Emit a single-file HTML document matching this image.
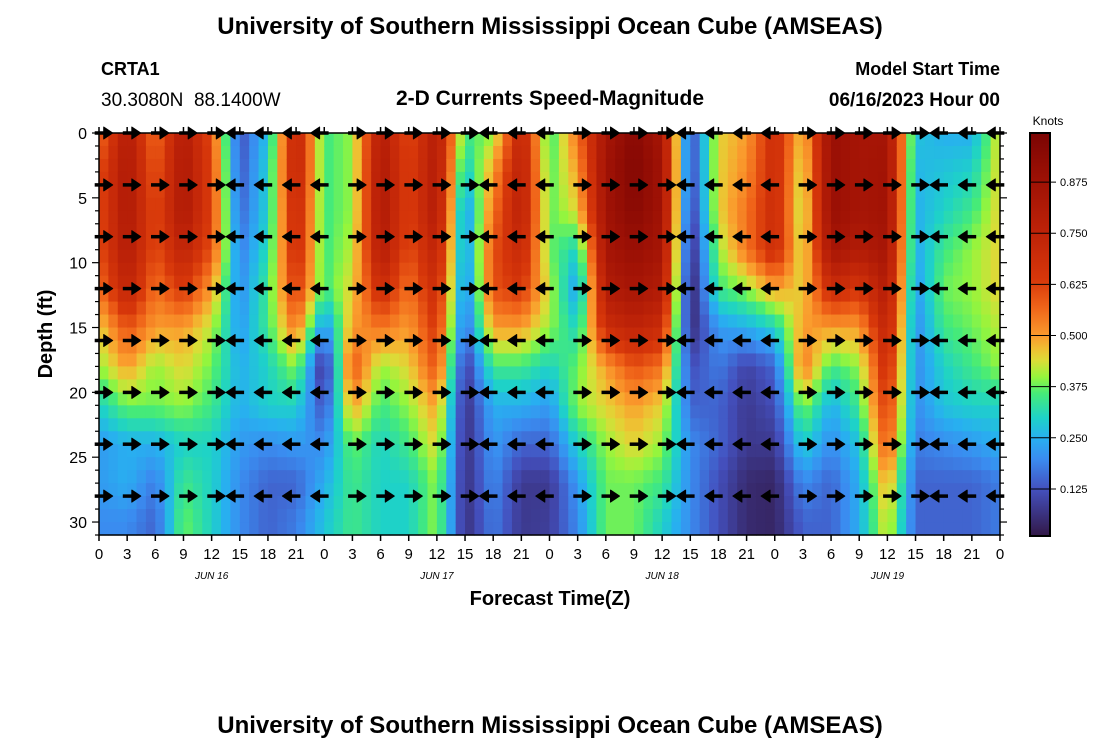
<!DOCTYPE html>
<html><head><meta charset="utf-8"><style>
body{margin:0;background:#fff;}
svg text{font-family:"Liberation Sans",sans-serif;}
</style></head><body>
<svg id="chart" width="1100" height="750" xmlns="http://www.w3.org/2000/svg">
<rect width="1100" height="750" fill="#fff"/>
<text x="550" y="34" font-size="24" font-weight="bold" text-anchor="middle">University of Southern Mississippi Ocean Cube (AMSEAS)</text>
<text x="101" y="75" font-size="18" font-weight="bold">CRTA1</text>
<text x="101" y="106" font-size="19">30.3080N&#160;&#160;88.1400W</text>
<text x="550" y="105" font-size="21" font-weight="bold" text-anchor="middle">2-D Currents Speed-Magnitude</text>
<text x="1000" y="75" font-size="18" font-weight="bold" text-anchor="end">Model Start Time</text>
<text x="1000" y="106" font-size="19" font-weight="bold" text-anchor="end">06/16/2023 Hour 00</text>
<g id="heat"></g>
<g id="arrows"></g>
<g id="axes"></g>
<text transform="translate(52,334) rotate(-90)" font-size="20" font-weight="bold" text-anchor="middle">Depth (ft)</text>
<text x="550" y="605" font-size="20" font-weight="bold" text-anchor="middle">Forecast Time(Z)</text>
<g id="cbar"></g>
<text x="1048" y="125" font-size="12" text-anchor="middle">Knots</text>
<text x="550" y="733" font-size="24" font-weight="bold" text-anchor="middle">University of Southern Mississippi Ocean Cube (AMSEAS)</text>
</svg>
<script>
const times=[0,3,6,9,12,15,18,21,24,27,30,33,36,39,42,45,48,51,54,57,60,63,66,69,72,75,78,81,84,87,90,93,96];
const depths=[0,3,6,9,12,15,18,21,24,27,30];
const speed=[
[.55,.6,.6,.6,.55,.45,.4,.3,.22,.22,.2],
[.8,.82,.82,.8,.75,.6,.5,.38,.25,.25,.2],
[.55,.58,.6,.6,.55,.5,.4,.38,.25,.18,.15],
[.8,.82,.82,.75,.65,.5,.45,.4,.3,.35,.38],
[.6,.62,.62,.6,.5,.42,.38,.35,.3,.3,.3],
[.12,.13,.15,.18,.2,.22,.25,.25,.22,.2,.2],
[.28,.3,.3,.32,.35,.35,.3,.3,.2,.15,.15],
[.75,.75,.72,.7,.65,.55,.4,.3,.22,.15,.18],
[.35,.35,.35,.35,.35,.2,.05,.12,.2,.25,.28],
[.4,.4,.4,.42,.45,.5,.6,.5,.38,.35,.35],
[.8,.82,.82,.8,.7,.55,.4,.35,.3,.3,.3],
[.6,.62,.62,.6,.55,.5,.45,.4,.35,.3,.3],
[.8,.8,.8,.75,.7,.65,.6,.5,.45,.4,.4],
[.35,.28,.2,.2,.18,.15,.08,.06,.06,.06,.06],
[.4,.5,.55,.6,.6,.5,.35,.25,.22,.2,.18],
[.75,.77,.77,.72,.65,.5,.35,.25,.15,.08,.08],
[.34,.36,.37,.38,.42,.4,.3,.22,.15,.08,.09],
[.55,.5,.45,.3,.22,.3,.38,.4,.3,.22,.2],
[.85,.87,.87,.85,.8,.7,.5,.45,.4,.38,.38],
[.95,.97,.95,.9,.85,.75,.6,.5,.45,.38,.38],
[.85,.87,.87,.85,.8,.7,.55,.45,.4,.35,.3],
[.1,.1,.08,.05,.03,.05,.12,.15,.2,.2,.2],
[.45,.45,.45,.4,.35,.22,.18,.15,.15,.12,.12],
[.5,.52,.55,.55,.4,.25,.1,.08,.08,.05,.05],
[.7,.7,.7,.7,.5,.3,.15,.12,.08,.04,.04],
[.45,.42,.4,.42,.45,.5,.55,.4,.3,.2,.15],
[.9,.9,.9,.85,.7,.5,.35,.25,.2,.15,.15],
[.85,.85,.85,.8,.65,.5,.4,.35,.28,.25,.25],
[.85,.87,.87,.85,.8,.75,.7,.65,.6,.5,.45],
[.28,.26,.25,.24,.22,.2,.2,.2,.18,.15,.15],
[.25,.28,.3,.35,.38,.35,.3,.28,.2,.15,.15],
[.25,.3,.35,.4,.4,.38,.35,.3,.22,.15,.15],
[.45,.45,.45,.45,.45,.42,.4,.3,.25,.18,.18]];
const arrowTimes=[0.5,3.5,6.5,9.5,12.5,14.5,17.5,20.5,23.5,27.5,30.5,33.5,36.5,39.5,41.5,44.5,47.5,51.5,54.5,57.5,60.5,62.5,65.5,68.5,71.5,75.5,78.5,81.5,84.5,87.5,89.5,92.5,95.5];
const arrowDirs=[0,0,0,0,0,180,180,180,180,0,0,0,0,0,180,180,180,0,0,0,0,180,180,180,180,0,0,0,0,0,180,180,180];
const arrowDepths=[0,4,8,12,16,20,24,28];
const xTickLabels=["0","3","6","9","12","15","18","21","0","3","6","9","12","15","18","21","0","3","6","9","12","15","18","21","0","3","6","9","12","15","18","21","0"];
const yTicks=[0,5,10,15,20,25,30];
const dayLabels=["JUN 16","JUN 17","JUN 18","JUN 19"];
const cbTicks=[0.125,0.25,0.375,0.5,0.625,0.75,0.875];

const NS="http://www.w3.org/2000/svg";
const X0=99,X1=1000,Y0=133,Y1=535,TMAX=96,DMAX=31;
const xs=t=>X0+(X1-X0)*t/TMAX, ys=d=>Y0+(Y1-Y0)*d/DMAX;
function mk(tag,attrs,parent){const e=document.createElementNS(NS,tag);for(const k in attrs)e.setAttribute(k,attrs[k]);parent.appendChild(e);return e;}
const stops=[[0,[48,18,59]],[0.125,[68,80,190]],[0.2,[58,140,240]],[0.25,[40,175,240]],[0.3,[30,210,200]],[0.36,[70,235,120]],[0.4,[150,245,60]],[0.44,[220,220,55]],[0.47,[240,190,50]],[0.5,[250,155,45]],[0.57,[240,100,25]],[0.64,[215,55,10]],[0.75,[190,35,8]],[0.875,[160,18,5]],[1,[122,4,3]]];
function color(v){v=Math.max(0,Math.min(1,v));for(let i=1;i<stops.length;i++){if(v<=stops[i][0]){const a=stops[i-1],b=stops[i],f=(v-a[0])/(b[0]-a[0]);const c=a[1].map((x,j)=>Math.round(x+(b[1][j]-x)*f));return `rgb(${c})`;}}return 'rgb(122,4,3)';}
function idx(arr,v){let i=0;while(i<arr.length-2&&v>arr[i+1])i++;const f=Math.max(0,Math.min(1,(v-arr[i])/(arr[i+1]-arr[i])));return [i,f];}
function val(t,d){const [i,fi]=idx(times,t),[j,fj]=idx(depths,d);
 const a=speed[i][j]*(1-fj)+speed[i][j+1]*fj,b=speed[i+1][j]*(1-fj)+speed[i+1][j+1]*fj;return a*(1-fi)+b*fi;}
const heat=document.getElementById('heat');
for(let h=0;h<TMAX;h++)for(let f=0;f<DMAX;f++){
 const r=mk('rect',{x:xs(h).toFixed(2),y:ys(f).toFixed(2),width:(xs(1)-xs(0)+0.6).toFixed(2),height:(ys(1)-ys(0)+0.6).toFixed(2),fill:color(val(h+0.5,f+0.5))},heat);
 
 
}
const ag=document.getElementById('arrows');
arrowTimes.forEach((t,i)=>arrowDepths.forEach(d=>{
 const g=mk('g',{transform:`translate(${xs(t).toFixed(1)},${ys(d).toFixed(1)}) rotate(${arrowDirs[i]})`},ag);
 
 
 mk('line',{x1:-9,y1:0,x2:1,y2:0,stroke:'#000','stroke-width':3.5},g);
 mk('polygon',{points:'9,0 0,-6 0,6',fill:'#000',stroke:'#000','stroke-width':1,'stroke-linejoin':'round'},g);
}));
const ax=document.getElementById('axes');
mk('rect',{x:X0,y:Y0,width:X1-X0,height:Y1-Y0,fill:'none',stroke:'#000','stroke-width':1.5},ax);
times.forEach((t,i)=>{const x=xs(t);
 mk('line',{x1:x,y1:Y1,x2:x,y2:Y1+6,stroke:'#000','stroke-width':1.5},ax);
 mk('line',{x1:x,y1:Y0,x2:x,y2:Y0-6,stroke:'#000','stroke-width':1.5},ax);
 const tx=mk('text',{x:x,y:559,'font-size':15,'text-anchor':'middle'},ax);tx.textContent=xTickLabels[i];
 
 
});
for(let f=0;f<=DMAX;f++){const y=ys(f),big=yTicks.includes(f);
 mk('line',{x1:X0-(big?7:4),y1:y,x2:X0,y2:y,stroke:'#000','stroke-width':1.2},ax);
 mk('line',{x1:X1,y1:y,x2:X1+(big?7:4),y2:y,stroke:'#000','stroke-width':1.2},ax);}
yTicks.forEach(d=>{const tx=mk('text',{x:X0-12,y:ys(d)+6,'font-size':16,'text-anchor':'end'},ax);tx.textContent=d;
 
 });
dayLabels.forEach((l,i)=>{const tx=mk('text',{x:xs(12+24*i),y:579,'font-size':10,'font-style':'italic','text-anchor':'middle','font-family':'Liberation Mono, monospace'},ax);tx.textContent=l;
 
 });
const cb=document.getElementById('cbar');
const CX=1030,CW=20,CY0=133,CY1=536,VMIN=0.01,VMAX=0.995;
const cy=v=>CY1-(CY1-CY0)*(v-VMIN)/(VMAX-VMIN);
for(let y=CY0;y<CY1;y++){mk('rect',{x:CX,y:y,width:CW,height:1.2,fill:color(VMIN+(CY1-y)/(CY1-CY0)*(VMAX-VMIN))},cb);}
mk('rect',{x:CX,y:CY0,width:CW,height:CY1-CY0,fill:'none',stroke:'#000','stroke-width':2},cb);
cbTicks.forEach(v=>{const y=cy(v);
 mk('line',{x1:CX,y1:y,x2:CX+CW+6,y2:y,stroke:'#000','stroke-width':1},cb);
 const tx=mk('text',{x:CX+30,y:y+4,'font-size':11},cb);tx.textContent=v.toFixed(3);
 
 });
</script>
</body></html>
